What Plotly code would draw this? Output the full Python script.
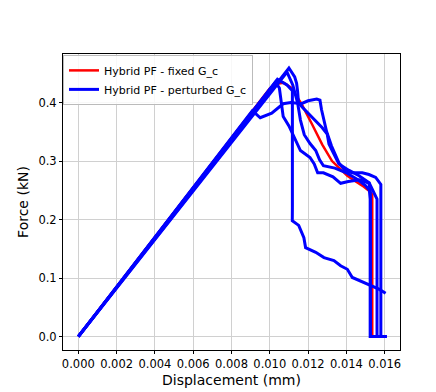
import plotly.graph_objects as go

# force-displacement curves (mm, kN)
fixed_x = [0.0, 0.0100, 0.0104, 0.0107, 0.0111, 0.01165, 0.01222, 0.01274, 0.01325, 0.01361, 0.01405, 0.01445, 0.01483, 0.01518, 0.01535, 0.01535]
fixed_y = [0.0, 0.424, 0.432, 0.434, 0.426, 0.398, 0.362, 0.328, 0.300, 0.288, 0.275, 0.266, 0.258, 0.249, 0.243, 0.0]

pert_a_x = [0.0, 0.0110, 0.0113, 0.0114, 0.01145, 0.0115, 0.0117, 0.01179, 0.01222, 0.01274, 0.0130, 0.01309, 0.01335, 0.01361, 0.01414, 0.01466, 0.01518, 0.01525, 0.01525, 0.0161]
pert_a_y = [0.0, 0.459, 0.444, 0.433, 0.420, 0.400, 0.392, 0.389, 0.374, 0.357, 0.346, 0.329, 0.312, 0.295, 0.284, 0.275, 0.263, 0.248, 0.0, 0.0]

pert_b_x = [0.0, 0.00909, 0.0095, 0.0101, 0.0107, 0.0111, 0.01165, 0.0120, 0.01245, 0.01262, 0.0127, 0.01279, 0.01297, 0.01322, 0.01361, 0.01395, 0.01431, 0.01483, 0.01518, 0.01553, 0.0158, 0.0158, 0.0161]
pert_b_y = [0.0, 0.386, 0.374, 0.382, 0.398, 0.400, 0.398, 0.403, 0.406, 0.404, 0.388, 0.374, 0.350, 0.326, 0.297, 0.283, 0.280, 0.280, 0.277, 0.272, 0.260, 0.0, 0.0]

pert_c_x = [0.0, 0.0104, 0.0109, 0.01118, 0.01118, 0.011175, 0.01151, 0.01178, 0.01187, 0.0124, 0.01283, 0.01335, 0.0137, 0.01405, 0.01431, 0.01483, 0.01535, 0.0157, 0.01605]
pert_c_y = [0.0, 0.440, 0.430, 0.420, 0.220, 0.198, 0.190, 0.169, 0.152, 0.144, 0.135, 0.130, 0.121, 0.115, 0.101, 0.094, 0.087, 0.081, 0.074]

pert_d_x = [0.0, 0.0103, 0.0105, 0.0106, 0.0107, 0.0110, 0.01135, 0.0116, 0.0121, 0.01232, 0.0125, 0.0128, 0.0133, 0.0137, 0.0141, 0.0147, 0.0152, 0.0156, 0.0156, 0.0161]
pert_d_y = [0.0, 0.435, 0.425, 0.400, 0.376, 0.360, 0.335, 0.318, 0.306, 0.295, 0.280, 0.280, 0.273, 0.262, 0.265, 0.268, 0.262, 0.235, 0.0, 0.0]

pert_e_x = [0.0, 0.0109, 0.0112, 0.01145, 0.0116, 0.0118, 0.0121, 0.0124, 0.0126, 0.0128, 0.0134, 0.0140, 0.0146, 0.0150, 0.0152, 0.01525, 0.01525, 0.0161]
pert_e_y = [0.0, 0.452, 0.430, 0.400, 0.370, 0.345, 0.330, 0.318, 0.302, 0.292, 0.288, 0.280, 0.268, 0.258, 0.250, 0.235, 0.0, 0.0]

perturbed = [
    (pert_a_x, pert_a_y),
    (pert_b_x, pert_b_y),
    (pert_c_x, pert_c_y),
    (pert_d_x, pert_d_y),
    (pert_e_x, pert_e_y),
]

x_ticks = [0.000, 0.002, 0.004, 0.006, 0.008, 0.010, 0.012, 0.014, 0.016]
y_ticks = [0.0, 0.1, 0.2, 0.3, 0.4]

fig = go.Figure()

fig.add_trace(go.Scatter(
    x=fixed_x, y=fixed_y, mode="lines",
    line=dict(color="red", width=2.5),
    name="Hybrid PF - fixed G_c",
))

for i, (px, py) in enumerate(perturbed):
    fig.add_trace(go.Scatter(
        x=px, y=py, mode="lines",
        line=dict(color="blue", width=3),
        name="Hybrid PF - perturbed G_c",
        showlegend=(i == 0),
    ))

axis_style = dict(
    showline=True, linecolor="black", linewidth=1, mirror=True,
    ticks="outside", ticklen=3, tickcolor="black",
    showgrid=True, gridcolor="#d0d0d0", gridwidth=1,
    zeroline=False,
    tickfont=dict(size=11.5, color="black"),
)

fig.update_xaxes(
    **axis_style,
    range=[-0.0008, 0.0168],
    tickvals=x_ticks, tickformat=".3f",
)
fig.update_yaxes(
    **axis_style,
    range=[-0.023, 0.483],
    tickvals=y_ticks, tickformat=".1f",
    title=dict(text="Force (kN)", font=dict(size=14, color="black"), standoff=6),
)

# x title placed just under the tick labels, as in the reference
fig.add_annotation(
    text="Displacement (mm)", x=0.5, y=0, xref="paper", yref="paper",
    xanchor="center", yanchor="top", yshift=-20, showarrow=False,
    font=dict(size=14, color="black"),
)

fig.update_layout(
    width=436, height=392,
    margin=dict(l=55, r=44, t=46, b=50),
    plot_bgcolor="white", paper_bgcolor="white",
    font=dict(family="DejaVu Sans", color="black"),
    legend=dict(
        x=0.0, y=0.997, xanchor="left", yanchor="top",
        bgcolor="rgba(255,255,255,0.85)",
        bordercolor="#bbbbbb", borderwidth=1,
        font=dict(size=11),
        itemwidth=30,
        tracegroupgap=0,
    ),
)

fig.write_html("out.html")
